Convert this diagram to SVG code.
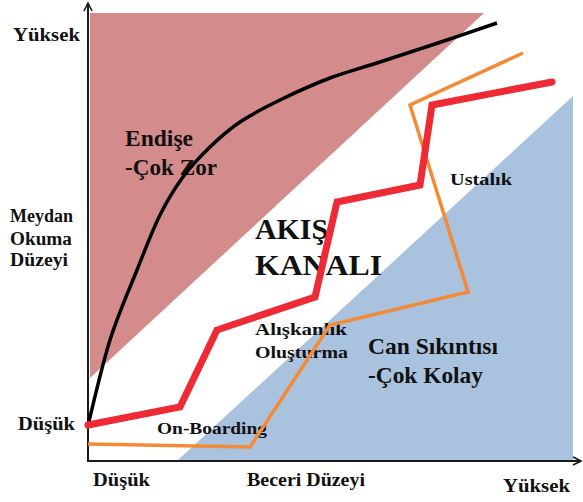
<svg xmlns="http://www.w3.org/2000/svg" width="583" height="502" viewBox="0 0 583 502">
<defs>
<style>
text{font-family:"Liberation Serif","Times New Roman",serif;font-weight:bold;fill:#111;}
.ax{font-size:18px;}
.zone{font-size:23px;}
.big{font-size:30px;}
.step{font-size:17px;}
.axis{stroke:#1a1a1a;stroke-width:2;fill:none;}
</style>
<marker id="arr" viewBox="0 0 10 10" refX="9" refY="5" markerWidth="10" markerHeight="10" markerUnits="userSpaceOnUse" orient="auto">
<path d="M1,1 L9,5 L1,9" fill="none" stroke="#1a1a1a" stroke-width="1.6"/>
</marker>
</defs>
<rect width="583" height="502" fill="#fff"/>
<g id="regions">
<polygon id="anxiety-zone" points="90,13 484,13 90,378" fill="#d48b8b"/>
<polygon id="boredom-zone" points="178,460 573,96 573,460" fill="#a9c2de"/>
</g>
<g id="axes">
<line class="axis" x1="88" y1="462" x2="88" y2="3" marker-end="url(#arr)"/>
<line class="axis" x1="87" y1="461" x2="581" y2="461" marker-end="url(#arr)"/>
</g>
<g id="axis-labels">
<text class="ax" x="13" y="41" textLength="67" lengthAdjust="spacingAndGlyphs">Yüksek</text>
<text class="ax" x="10" y="222" textLength="63" lengthAdjust="spacingAndGlyphs">Meydan</text>
<text class="ax" x="10" y="245" textLength="62" lengthAdjust="spacingAndGlyphs">Okuma</text>
<text class="ax" x="10" y="266" textLength="58" lengthAdjust="spacingAndGlyphs">Düzeyi</text>
<text class="ax" x="18" y="430" textLength="57" lengthAdjust="spacingAndGlyphs">Düşük</text>
<text class="ax" x="93" y="486" textLength="57" lengthAdjust="spacingAndGlyphs">Düşük</text>
<text class="ax" x="247" y="486" textLength="118" lengthAdjust="spacingAndGlyphs">Beceri Düzeyi</text>
<text class="ax" x="503" y="492" textLength="67" lengthAdjust="spacingAndGlyphs">Yüksek</text>
</g>
<g id="zone-labels">
<text class="zone" x="125" y="146" textLength="68" lengthAdjust="spacingAndGlyphs">Endişe</text>
<text class="zone" x="125" y="175" textLength="92" lengthAdjust="spacingAndGlyphs">-Çok Zor</text>
<text class="big" x="255" y="239" textLength="73" lengthAdjust="spacingAndGlyphs">AKIŞ</text>
<text class="big" x="255" y="275" textLength="127" lengthAdjust="spacingAndGlyphs">KANALI</text>
<text class="step" x="450" y="185" textLength="62" lengthAdjust="spacingAndGlyphs">Ustalık</text>
<text class="step" x="255" y="335" textLength="92" lengthAdjust="spacingAndGlyphs">Alışkanlık</text>
<text class="step" x="255" y="358" textLength="93" lengthAdjust="spacingAndGlyphs">Oluşturma</text>
<text class="zone" x="368" y="354" textLength="130" lengthAdjust="spacingAndGlyphs">Can Sıkıntısı</text>
<text class="zone" x="368" y="383" textLength="115" lengthAdjust="spacingAndGlyphs">-Çok Kolay</text>
<text class="step" x="157" y="434" textLength="110" lengthAdjust="spacingAndGlyphs">On-Boarding</text>
</g>
<g id="connectors" fill="none">
<path id="challenge-curve" d="M88,425 C91.7,410.8 101.8,365.8 110,340 C118.2,314.2 128.7,290.8 137,270 C145.3,249.2 152.3,230.5 160,215 C167.7,199.5 174.7,188.3 183,177 C191.3,165.7 200.5,156.2 210,147 C219.5,137.8 228.3,129.8 240,122 C251.7,114.2 265,107.3 280,100 C295,92.7 313.3,84.3 330,78 C346.7,71.7 360.5,68.3 380,62 C399.5,55.7 427.5,46.5 447,40 C466.5,33.5 488.7,25.8 497,23" stroke="#000" stroke-width="3.5"/>
<polyline id="orange-path" points="88,444 250,447 330,325 468,292 410,105 523,53" stroke="#f58a35" stroke-width="3.5" stroke-linejoin="miter"/>
<polyline id="red-path" points="88,425 180,407 217,330 315,297 337,202 420,185 432,105 552,82" stroke="#ee2a35" stroke-width="7" stroke-linecap="round" stroke-linejoin="miter"/>
</g>
</svg>
